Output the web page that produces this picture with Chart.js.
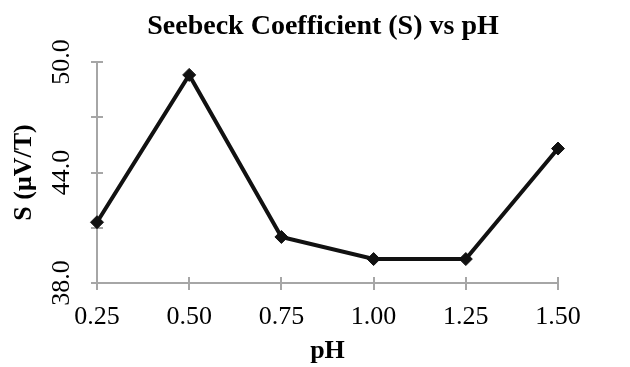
<!DOCTYPE html>
<html>
<head>
<meta charset="utf-8">
<script src="https://cdn.jsdelivr.net/npm/chart.js@4/dist/chart.umd.min.js"></script>
<style>
  html, body { margin: 0; padding: 0; background: #fff; }
  #wrap { width: 630px; height: 367px; position: relative; }
</style>
</head>
<body>
<div id="wrap"><canvas id="c" width="630" height="367"></canvas></div>
<script>
const categories = ['0.25', '0.50', '0.75', '1.00', '1.25', '1.50'];
const seebeck = [41.3, 49.3, 40.5, 39.3, 39.3, 45.3];
const yTickLabels = ['38.0', '44.0', '50.0'];
const chartTitle = 'Seebeck Coefficient (S) vs pH';

const AXIS_COLOR = '#a6a6a6';
const SERIF = '"Liberation Serif", "Times New Roman", serif';

const axisPlugin = {
  id: 'excelAxes',
  beforeDatasetsDraw(chart) {
    const ctx = chart.ctx;
    const xs = chart.scales.x, ys = chart.scales.y;
    const a = chart.chartArea;
    ctx.save();
    ctx.strokeStyle = AXIS_COLOR;
    ctx.lineWidth = 2;
    ctx.beginPath();
    ctx.moveTo(a.left, a.top);
    ctx.lineTo(a.left, a.bottom);
    ys.ticks.forEach(t => {
      const y = Math.round(ys.getPixelForValue(t.value));
      ctx.moveTo(a.left - 6, y);
      ctx.lineTo(a.left + 6, y);
    });
    ctx.moveTo(a.left, a.bottom);
    ctx.lineTo(a.right, a.bottom);
    categories.forEach((c, i) => {
      const x = Math.round(xs.getPixelForValue(i));
      ctx.moveTo(x, a.bottom - 6);
      ctx.lineTo(x, a.bottom + 7);
    });
    ctx.stroke();
    ctx.restore();
  },
  afterDraw(chart) {
    const ctx = chart.ctx;
    const ys = chart.scales.y;
    const a = chart.chartArea;
    ctx.save();
    ctx.fillStyle = '#000';
    ctx.font = 'bold 28px ' + SERIF;
    ctx.textAlign = 'center';
    ctx.textBaseline = 'middle';
    ctx.fillText(chartTitle, 323, 27);
    ctx.font = '26px ' + SERIF;
    ctx.textAlign = 'center';
    ctx.textBaseline = 'alphabetic';
    yTickLabels.forEach(lbl => {
      const y = ys.getPixelForValue(parseFloat(lbl));
      ctx.save();
      ctx.translate(a.left - 28, y);
      ctx.rotate(-Math.PI / 2);
      ctx.fillText(lbl, 0, 0);
      ctx.restore();
    });
    ctx.restore();
  }
};

new Chart(document.getElementById('c'), {
  type: 'line',
  data: {
    labels: categories,
    datasets: [{
      data: seebeck,
      borderColor: '#111',
      backgroundColor: '#111',
      borderWidth: 4,
      pointStyle: 'rectRot',
      pointRadius: 6.5,
      pointHoverRadius: 6.5,
      pointBackgroundColor: '#111',
      pointBorderColor: '#111',
      pointBorderWidth: 1,
      tension: 0,
      clip: false
    }]
  },
  options: {
    responsive: false,
    animation: false,
    events: [],
    layout: { padding: { left: 0, right: 72, top: 62, bottom: 0 } },
    plugins: {
      legend: { display: false },
      tooltip: { enabled: false },
      title: { display: false }
    },
    scales: {
      x: {
        type: 'category',
        offset: false,
        grid: { display: false, drawTicks: false, tickLength: 0 },
        border: { display: false },
        ticks: {
          color: '#000',
          font: { family: SERIF, size: 26 },
          padding: 19,
          maxRotation: 0,
          autoSkip: false
        },
        title: {
          display: true,
          text: 'pH',
          color: '#000',
          font: { family: SERIF, size: 26, weight: 'bold', lineHeight: 1.2 },
          padding: { top: 0, bottom: 0 }
        },
        afterFit(s) { s.height = 84; }
      },
      y: {
        type: 'linear',
        min: 38,
        max: 50,
        grid: { display: false, drawTicks: false, tickLength: 0 },
        border: { display: false },
        ticks: { display: false, stepSize: 3 },
        title: {
          display: true,
          text: 'S (μV/T)',
          color: '#000',
          font: { family: SERIF, size: 26, weight: 'bold', lineHeight: 1.2 },
          padding: { top: 9, bottom: 0 }
        },
        afterFit(s) { s.width = 97; }
      }
    }
  },
  plugins: [axisPlugin]
});
</script>
</body>
</html>
